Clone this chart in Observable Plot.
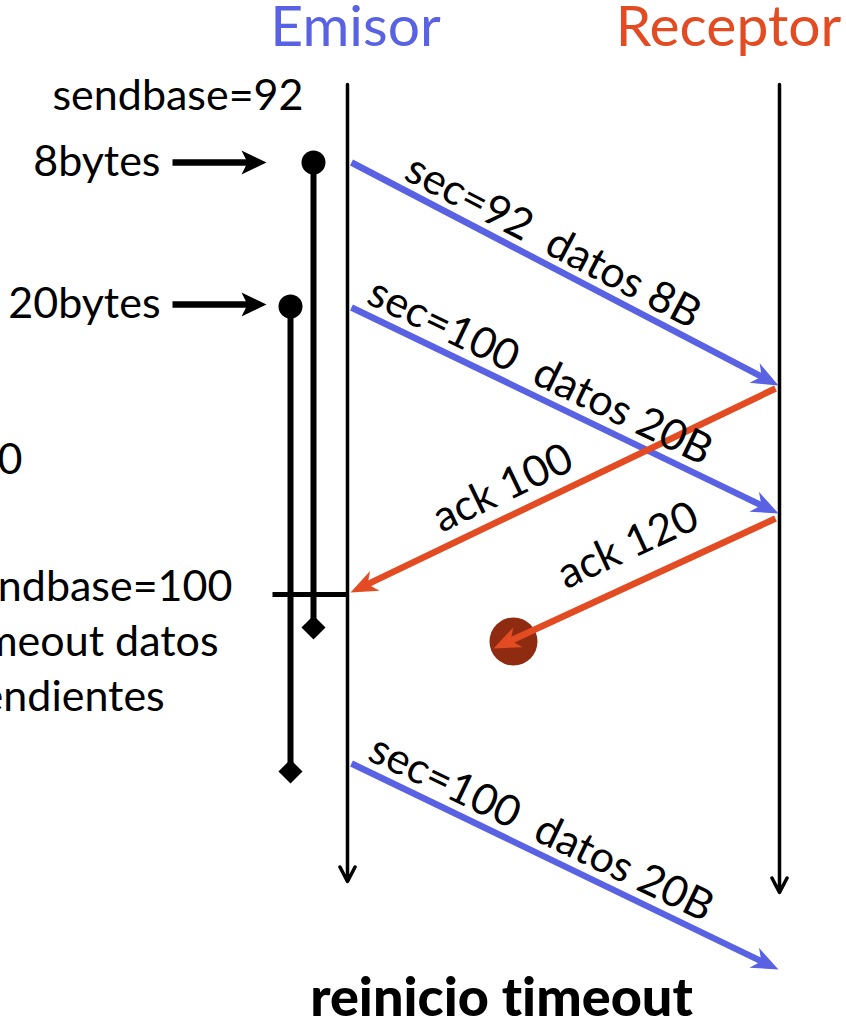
<!DOCTYPE html>
<html><head><meta charset="utf-8">
<script src="https://cdn.jsdelivr.net/npm/d3@7"></script>
<script src="https://cdn.jsdelivr.net/npm/@observablehq/plot@0.6"></script>
<style>body{margin:0;background:#fff;overflow:hidden} svg text{font-variant-ligatures:none;font-feature-settings:"liga" 0,"clig" 0}</style>
</head><body><div id="chart"></div>
<script>
// ---- data ----
const lanes = ["Emisor", "Receptor"];
const laneX = [347, 779];
const laneTop = [84, 84];
const laneBottom = [881, 892];

const msgLabel = ["sec=92  datos 8B", "sec=100  datos 20B", "ack 100", "ack 120", "sec=100  datos 20B"];
const msgKind = ["datos", "datos", "ack", "ack", "datos"];
const msgX1 = [351, 351, 775, 775, 351];
const msgY1 = [162, 307, 388, 518, 763];
const msgX2 = [778, 778, 350, 493, 778];
const msgY2 = [385, 513, 592, 648, 969];
const msgLabelT = [0.447, 0.417, 0.613, 0.468, 0.42];
const msgLabelOff = [23, 24, 28, 37, 24];

const segLabel = ["8bytes", "20bytes"];
const segY = [162, 304];
const timerX = [313, 290];
const timerStart = [162, 306];
const timerEnd = [627, 771];

const ackArrivalY = 594;
const lostX = 513, lostY = 641;

const notes = ["sendbase=100", "timeout datos", "pendientes"];
const noteY = [600, 655, 710];

// ---- build ----
const blue = "#5a62e4", orange = "#e34b22";
function headPoly(id, x1, y1, x2, y2, len, hw, notch) {
  const L = Math.hypot(x2 - x1, y2 - y1), ux = (x2 - x1) / L, uy = (y2 - y1) / L;
  const bx = x2 - len * ux, by = y2 - len * uy, px = -uy, py = ux;
  return [
    {id, x: x2, y: y2},
    {id, x: bx + hw * px, y: by + hw * py},
    {id, x: x2 - (len - notch) * ux, y: y2 - (len - notch) * uy},
    {id, x: bx - hw * px, y: by - hw * py},
    {id, x: x2, y: y2}
  ];
}
function shaftEnd(x1, y1, x2, y2, back) {
  const L = Math.hypot(x2 - x1, y2 - y1);
  return [x2 - back * (x2 - x1) / L, y2 - back * (y2 - y1) / L];
}
const messages = msgLabel.map((label, i) => {
  const x1 = msgX1[i], y1 = msgY1[i], x2 = msgX2[i], y2 = msgY2[i];
  const dx = x2 - x1, dy = y2 - y1;
  const a = dx >= 0 ? Math.atan2(dy, dx) : Math.atan2(-dy, -dx);
  const t = msgLabelT[i], off = msgLabelOff[i];
  const [sx, sy] = shaftEnd(x1, y1, x2, y2, 14);
  return {id: i, label, kind: msgKind[i], x1, y1, x2, y2, sx, sy,
    rot: a * 180 / Math.PI,
    lx: x1 + t * dx + off * Math.sin(a),
    ly: y1 + t * dy - off * Math.cos(a)};
});
const msgHeads = messages.flatMap(m => headPoly(m.id, m.x1, m.y1, m.x2, m.y2, 27, 11, 8).map(p => ({...p, kind: m.kind})));
const laneData = lanes.map((name, i) => ({name, x: laneX[i], y1: laneTop[i], y2: laneBottom[i]}));
const segs = segLabel.map((label, i) => ({id: i, label, y: segY[i], tx: timerX[i], t0: timerStart[i], t1: timerEnd[i]}));
const segArrowX1 = 172, segArrowX2 = 266;
const segHeads = segs.flatMap(s => headPoly(s.id, segArrowX1, s.y, segArrowX2, s.y, 25, 12, 6));

const font = "Lato, 'Open Sans', sans-serif";
const fs = 43;
const chart = Plot.plot({
  width: 846, height: 1023,
  margin: 0,
  x: {domain: [0, 846], range: [0, 846], axis: null},
  y: {domain: [0, 1023], range: [0, 1023], axis: null},
  style: {fontFamily: font, background: "#fff"},
  marks: [
    // lane titles
    Plot.text(laneData, {x: d => d.x + (d.name === "Emisor" ? 8 : -51), y: 45, text: "name",
      fill: d => d.name === "Emisor" ? blue : orange, fontSize: 57, lineAnchor: "bottom", textAnchor: "middle"}),
    // lifelines
    Plot.arrow(laneData, {x1: "x", x2: "x", y1: "y1", y2: "y2", stroke: "black", strokeWidth: 3.5, headLength: 7, headAngle: 55}),
    // timers
    Plot.link(segs, {x1: "tx", x2: "tx", y1: "t0", y2: "t1", stroke: "black", strokeWidth: 6}),
    Plot.dot(segs, {x: "tx", y: "t0", r: 12, fill: "black"}),
    Plot.dot(segs, {x: "tx", y: "t1", r: 9.6, symbol: "square", rotate: 45, fill: "black"}),
    Plot.link([ackArrivalY], {x1: 272, x2: laneX[0], y1: d => d, y2: d => d, stroke: "black", strokeWidth: 5}),
    // segment labels and arrows
    Plot.link(segs, {x1: segArrowX1, x2: segArrowX2 - 12, y1: "y", y2: "y", stroke: "black", strokeWidth: 6.5}),
    Plot.line(segHeads, {x: "x", y: "y", z: "id", fill: "black", stroke: "none"}),
    Plot.text(segs, {x: 160, y: d => d.y + 13, text: "label", fontSize: fs, textAnchor: "end", lineAnchor: "bottom", fill: "black"}),
    Plot.text(["sendbase=92"], {x: 52, y: 109, text: d => d, fontSize: fs, textAnchor: "start", lineAnchor: "bottom", fill: "black"}),
    Plot.text(["0"], {x: -3, y: 473, text: d => d, fontSize: fs, textAnchor: "start", lineAnchor: "bottom", fill: "black"}),
    Plot.text(notes, {x: -44, y: (d, i) => noteY[i], text: d => d, fontSize: fs, textAnchor: "start", lineAnchor: "bottom", fill: "black"}),
    // lost packet
    Plot.dot([0], {x: lostX, y: lostY, r: 24, fill: "#8f2b10"}),
    // messages
    Plot.link(messages, {x1: "x1", y1: "y1", x2: "sx", y2: "sy",
      stroke: d => d.kind === "datos" ? blue : orange, strokeWidth: 6.5}),
    Plot.line(msgHeads, {x: "x", y: "y", z: "id", fill: d => d.kind === "datos" ? blue : orange, stroke: "none"}),
    Plot.text(messages, {x: "lx", y: "ly", text: "label", rotate: "rot", fontSize: fs,
      textAnchor: "middle", lineAnchor: "middle", fill: "black"}),
    // bottom caption
    Plot.text(["reinicio timeout"], {x: 501, y: 1015, text: d => d, fontSize: 54, fontWeight: 900,
      textAnchor: "middle", lineAnchor: "bottom", fill: "black"})
  ]
});
document.getElementById("chart").append(chart);
</script>
</body></html>
